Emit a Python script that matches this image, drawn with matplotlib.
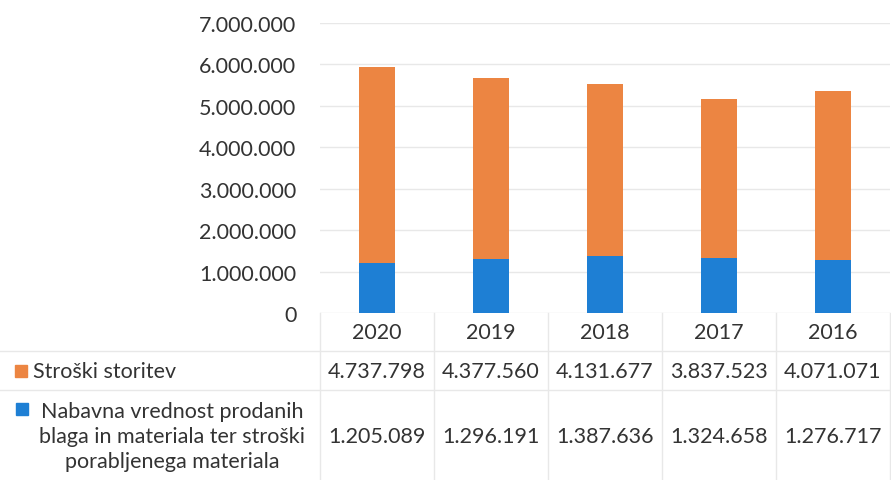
import matplotlib.pyplot as plt
import numpy as np

leta = ["2020", "2019", "2018", "2017", "2016"]
storitve = [4737798, 4377560, 4131677, 3837523, 4071071]
material = [1205089, 1296191, 1387636, 1324658, 1276717]
oznaka_storitve = "Stroški storitev"
oznaka_material = "Nabavna vrednost prodanih\nblaga in materiala ter stroški\nporabljenega materiala"

oranzna = "#EC8542"
modra = "#1E7FD4"
crta = "#E8E8E8"
besedilo = "#333333"
vel = 15.5

plt.rcParams["font.family"] = ["Lato", "DejaVu Sans"]


def pika(v):
    return f"{int(v):,}".replace(",", ".")


fig = plt.figure(figsize=(8.91, 4.81), dpi=100)
ax = fig.add_axes([320 / 891, 167 / 481, 570 / 891, 290 / 481])

x = np.arange(len(leta))
ax.bar(x, material, width=0.31, color=modra, zorder=3)
ax.bar(x, storitve, width=0.31, bottom=material, color=oranzna, zorder=3)

ax.set_xlim(-0.5, len(leta) - 0.5)
ax.set_ylim(0, 7000000)
ax.set_yticks(np.arange(0, 7000001, 1000000))
ax.set_yticklabels([pika(v) for v in ax.get_yticks()], fontsize=vel, color=besedilo)
ax.tick_params(axis="y", length=0, pad=17)
ax.set_xticks([])
ax.grid(axis="y", color=crta, linewidth=1, zorder=0)
for s in ax.spines.values():
    s.set_visible(False)

# podatkovna tabela pod grafom
tr = ax.get_xaxis_transform()
y_leto, y_r1, y_r2 = -0.066, -0.2, -0.424
for i, leto in enumerate(leta):
    ax.text(i, y_leto, leto, transform=tr, ha="center", va="center",
            fontsize=vel, color=besedilo, clip_on=False)
    ax.text(i, y_r1, pika(storitve[i]), transform=tr, ha="center", va="center",
            fontsize=vel, color=besedilo, clip_on=False)
    ax.text(i, y_r2, pika(material[i]), transform=tr, ha="center", va="center",
            fontsize=vel, color=besedilo, clip_on=False)

for xv in np.arange(-0.5, len(leta), 1.0):
    ax.plot([xv, xv], [0, -0.58], transform=tr, color=crta, linewidth=1, clip_on=False)

for yv in [-0.131, -0.2655]:
    ax.plot([-320 / 570, 1.0], [yv, yv], transform=ax.transAxes, color=crta,
            linewidth=1, clip_on=False)

# oznake vrstic z legendnimi kvadratki
fig.text(33 / 891, 1 - 372 / 481, oznaka_storitve, ha="left", va="center",
         fontsize=vel, color=besedilo)
fig.text(172 / 891, 1 - 437 / 481, oznaka_material, ha="center", va="center",
         fontsize=vel, color=besedilo, multialignment="center", linespacing=1.3)
fig.patches.append(plt.Rectangle((15 / 891, 1 - 378 / 481), 12 / 891, 12 / 481,
                                 transform=fig.transFigure, color=oranzna))
fig.patches.append(plt.Rectangle((16 / 891, 1 - 416 / 481), 12 / 891, 12 / 481,
                                 transform=fig.transFigure, color=modra))

fig.savefig("out.png", dpi=100)
